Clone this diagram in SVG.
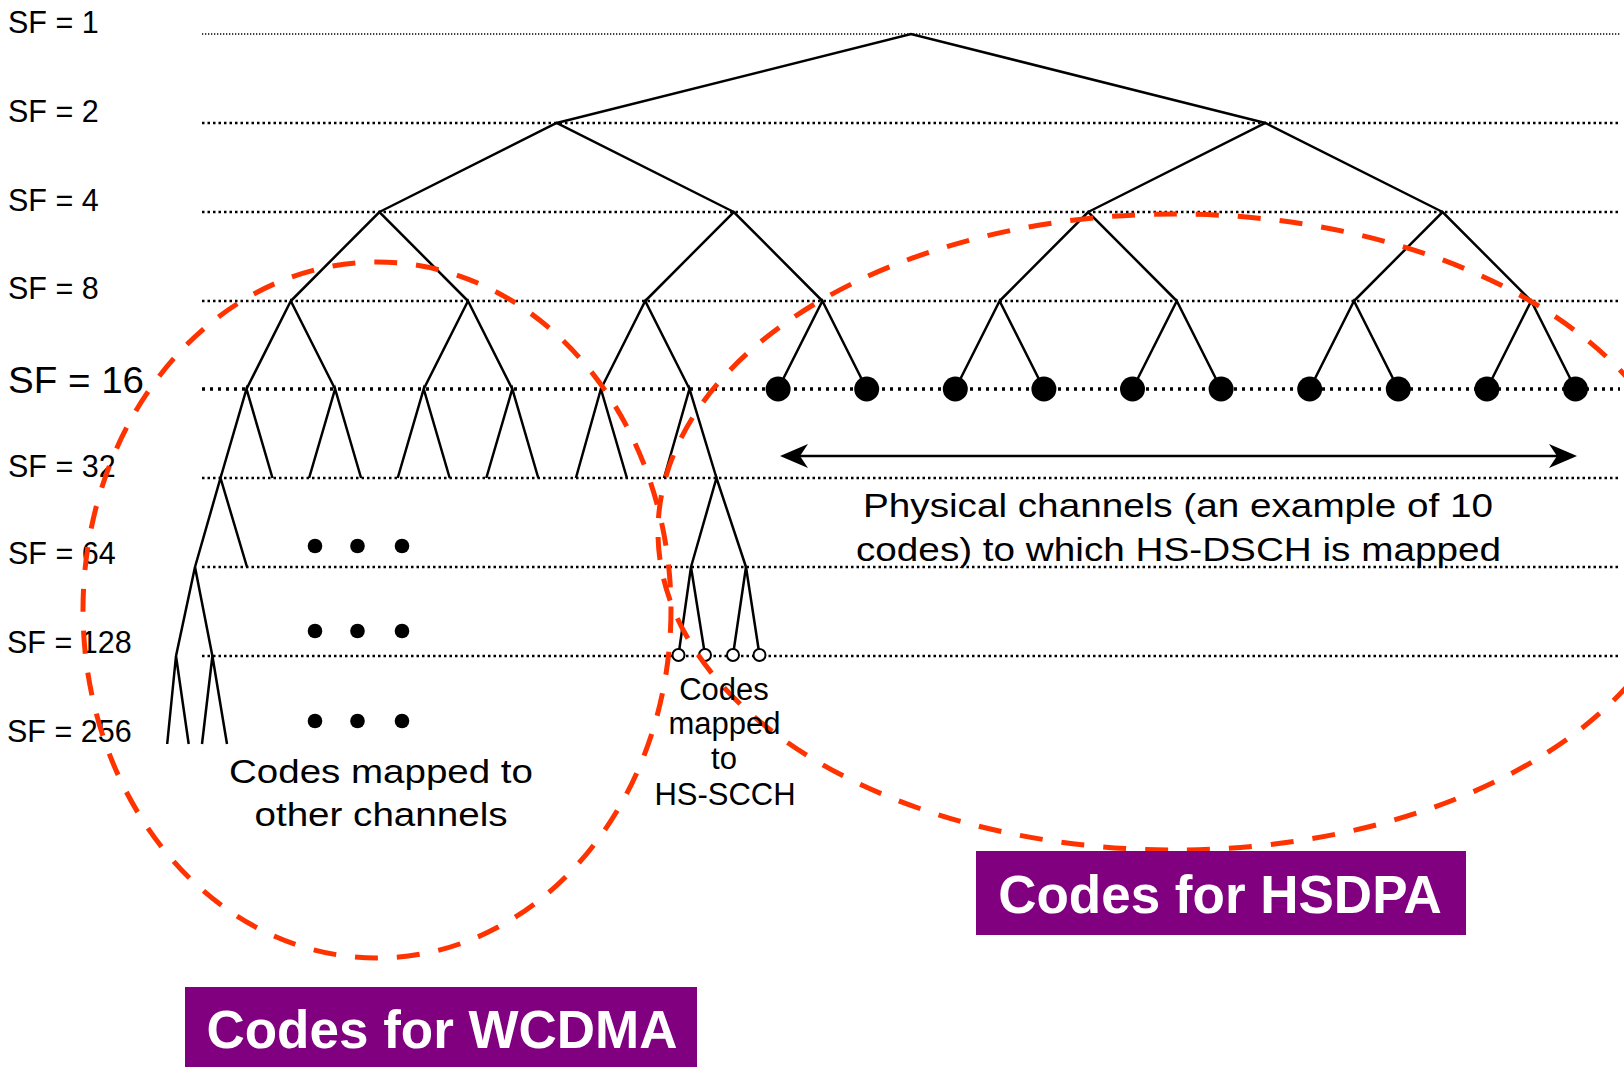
<svg xmlns="http://www.w3.org/2000/svg" width="1624" height="1067" viewBox="0 0 1624 1067">
<style>
.lbl{font-family:"Liberation Sans",Arial,sans-serif;font-size:30.5px;fill:#000}
.txt{font-family:"Liberation Sans",Arial,sans-serif;fill:#000}
.lvl{stroke:#000;stroke-width:2.6;stroke-dasharray:2.5 3;fill:none}
.lvl1{stroke:#000;stroke-width:1.5;stroke-dasharray:1.3 1.7;fill:none}
.lvl16{stroke:#000;stroke-width:3.5;stroke-dasharray:3 5;fill:none}
.br{stroke:#000;stroke-width:2.5;fill:none;stroke-linejoin:miter}
.ell{fill:none;stroke:#FF3300;stroke-width:5;stroke-dasharray:23 19}
.dot{fill:#000}
.oc{fill:#fff;stroke:#000;stroke-width:2}
.box{fill:#800080}
.btxt{font-family:"Liberation Sans",Arial,sans-serif;font-weight:bold;font-size:53px;fill:#fff;text-anchor:middle}
</style>
<defs>
<marker id="ah" markerUnits="userSpaceOnUse" viewBox="-12 -14 32 28" markerWidth="32" markerHeight="28" refX="0" refY="0" orient="auto-start-reverse">
<path d="M18,0 L-10,-12 L-2,0 L-10,12 Z" fill="#000"/>
</marker>
</defs>

<g id="sf-labels">
<text class="lbl" x="8" y="33">SF = 1</text>
<text class="lbl" x="8" y="122">SF = 2</text>
<text class="lbl" x="8" y="211">SF = 4</text>
<text class="lbl" x="8" y="299">SF = 8</text>
<text class="lbl" x="8" y="393" style="font-size:36px" textLength="136" lengthAdjust="spacingAndGlyphs">SF = 16</text>
<text class="lbl" x="8" y="477">SF = 32</text>
<text class="lbl" x="8" y="564">SF = 64</text>
<text class="lbl" x="7" y="653">SF = 128</text>
<text class="lbl" x="7" y="742">SF = 256</text>
</g>

<g id="levels">
<line class="lvl1" x1="202" y1="34" x2="1620" y2="34"/>
<line class="lvl" x1="202" y1="123" x2="1620" y2="123"/>
<line class="lvl" x1="202" y1="212" x2="1620" y2="212"/>
<line class="lvl" x1="202" y1="301" x2="1620" y2="301"/>
<line class="lvl16" x1="202" y1="389" x2="1620" y2="389"/>
<line class="lvl" x1="202" y1="478" x2="1620" y2="478"/>
<line class="lvl" x1="202" y1="567" x2="1620" y2="567"/>
<line class="lvl" x1="202" y1="656" x2="1620" y2="656"/>
</g>

<g id="connectors">
<polyline class="br" points="556.6,123 911,34 1265.4,123"/>
<polyline class="br" points="379.4,212 556.6,123 733.8,212"/>
<polyline class="br" points="1088.2,212 1265.4,123 1442.6,212"/>
<polyline class="br" points="290.8,301 379.4,212 468,301"/>
<polyline class="br" points="645.2,301 733.8,212 822.4,301"/>
<polyline class="br" points="999.6,301 1088.2,212 1176.8,301"/>
<polyline class="br" points="1354,301 1442.6,212 1531.2,301"/>
<polyline class="br" points="246.5,389 290.8,301 335.1,389"/>
<polyline class="br" points="423.7,389 468,301 512.3,389"/>
<polyline class="br" points="600.9,389 645.2,301 689.5,389"/>
<polyline class="br" points="778.1,389 822.4,301 866.7,389"/>
<polyline class="br" points="955.3,389 999.6,301 1043.9,389"/>
<polyline class="br" points="1132.5,389 1176.8,301 1221.1,389"/>
<polyline class="br" points="1309.7,389 1354,301 1398.3,389"/>
<polyline class="br" points="1486.9,389 1531.2,301 1575.5,389"/>
<polyline class="br" points="220.5,478 246.5,389 272.5,478"/>
<polyline class="br" points="309.1,478 335.1,389 361.1,478"/>
<polyline class="br" points="397.7,478 423.7,389 449.7,478"/>
<polyline class="br" points="486.3,478 512.3,389 538.3,478"/>
<polyline class="br" points="575.9,478 600.9,389 626.9,478"/>
<polyline class="br" points="664,478 689.5,389 716.5,478"/>
<polyline class="br" points="195,567 220.5,478 247,567"/>
<polyline class="br" points="691,567 716.5,478 746,567"/>
<polyline class="br" points="176,656 195,567 212.4,656"/>
<polyline class="br" points="678.5,655 691,567 705,655"/>
<polyline class="br" points="733,655 746,567 759.5,655"/>
<polyline class="br" points="167.2,744 176,656 188.7,744"/>
<polyline class="br" points="202,744 212.4,656 227,744"/>
<line x1="798" y1="456" x2="1559" y2="456" stroke="#000" stroke-width="2.5" marker-start="url(#ah)" marker-end="url(#ah)"/>
</g>

<g id="hsdsch-codes">
<circle class="dot" cx="778.1" cy="389" r="12.5"/>
<circle class="dot" cx="866.7" cy="389" r="12.5"/>
<circle class="dot" cx="955.3" cy="389" r="12.5"/>
<circle class="dot" cx="1043.9" cy="389" r="12.5"/>
<circle class="dot" cx="1132.5" cy="389" r="12.5"/>
<circle class="dot" cx="1221.1" cy="389" r="12.5"/>
<circle class="dot" cx="1309.7" cy="389" r="12.5"/>
<circle class="dot" cx="1398.3" cy="389" r="12.5"/>
<circle class="dot" cx="1486.9" cy="389" r="12.5"/>
<circle class="dot" cx="1575.5" cy="389" r="12.5"/>
</g>

<g id="hsscch-codes">
<circle class="oc" cx="678.5" cy="655" r="6"/>
<circle class="oc" cx="705" cy="655" r="6"/>
<circle class="oc" cx="733" cy="655" r="6"/>
<circle class="oc" cx="759.5" cy="655" r="6"/>
</g>

<g id="ellipsis-dots">
<circle class="dot" cx="315" cy="546" r="7.3"/>
<circle class="dot" cx="357.5" cy="546" r="7.3"/>
<circle class="dot" cx="402" cy="546" r="7.3"/>
<circle class="dot" cx="315" cy="631" r="7.3"/>
<circle class="dot" cx="357.5" cy="631" r="7.3"/>
<circle class="dot" cx="402" cy="631" r="7.3"/>
<circle class="dot" cx="315" cy="721" r="7.3"/>
<circle class="dot" cx="357.5" cy="721" r="7.3"/>
<circle class="dot" cx="402" cy="721" r="7.3"/>
</g>

<g id="wcdma-region">
<ellipse class="ell" cx="377" cy="610" rx="294" ry="348"/>
</g>
<g id="hsdpa-region">
<ellipse class="ell" cx="1175" cy="532" rx="517" ry="318"/>
</g>

<g id="physical-channels-label">
<text class="txt" style="font-size:34px" x="1178" y="517" text-anchor="middle" textLength="630" lengthAdjust="spacingAndGlyphs">Physical channels (an example of 10</text>
<text class="txt" style="font-size:34px" x="1178.5" y="561" text-anchor="middle" textLength="645" lengthAdjust="spacingAndGlyphs">codes) to which HS-DSCH is mapped</text>
</g>

<g id="other-channels-label">
<text class="txt" style="font-size:34px" x="381" y="783" text-anchor="middle" textLength="304" lengthAdjust="spacingAndGlyphs">Codes mapped to</text>
<text class="txt" style="font-size:34px" x="381" y="826" text-anchor="middle" textLength="253" lengthAdjust="spacingAndGlyphs">other channels</text>
</g>

<g id="hsscch-label">
<text class="txt" style="font-size:31px" x="724" y="700" text-anchor="middle">Codes</text>
<text class="txt" style="font-size:31px" x="724.5" y="734" text-anchor="middle">mapped</text>
<text class="txt" style="font-size:31px" x="724" y="769" text-anchor="middle">to</text>
<text class="txt" style="font-size:31px" x="725" y="805" text-anchor="middle">HS-SCCH</text>
</g>

<g id="box-hsdpa">
<rect class="box" x="976" y="851" width="490" height="84"/>
<text class="btxt" x="1220" y="913">Codes for HSDPA</text>
</g>
<g id="box-wcdma">
<rect class="box" x="185" y="987" width="512" height="82"/>
<text class="btxt" x="442" y="1048">Codes for WCDMA</text>
</g>
</svg>
